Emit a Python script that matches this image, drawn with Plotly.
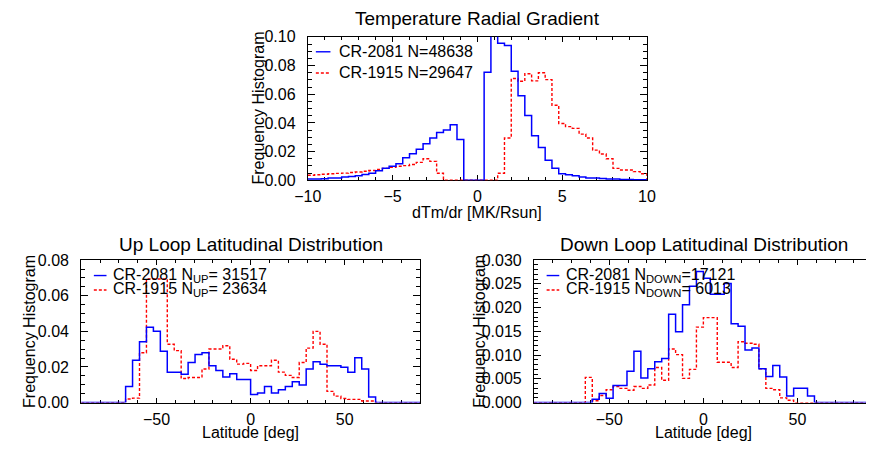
import plotly.graph_objects as go

FONT = "Liberation Sans, Arial, Helvetica, sans-serif"
BLUE = "#0000ff"
RED = "#ff0000"
W, H = 875, 452

# ---------------- data ----------------
# Temperature radial gradient histogram, bins of 0.4 MK/Rsun from -10 to 10
grad_start = -10.0
grad_width = 0.4
grad_cr2081 = [0.0009, 0.0009, 0.0010, 0.0016, 0.0016, 0.0022, 0.0027, 0.0031, 0.0040, 0.0049,
               0.0067, 0.0083, 0.0098, 0.0116, 0.0157, 0.0185, 0.0217, 0.0255, 0.0295, 0.0333,
               0.0351, 0.0387, 0.0284, 0.0, 0.0, 0.0, 0.0754, 0.1015, 0.0955, 0.0940,
               0.0760, 0.0590, 0.0452, 0.0310, 0.0228, 0.0139, 0.0083, 0.0045, 0.0038, 0.0031,
               0.0022, 0.0015, 0.0015, 0.0012, 0.0009, 0.0009, 0.0006, 0.0005, 0.0004, 0.0003]
grad_cr1915 = [0.0035, 0.0038, 0.0042, 0.0045, 0.0048, 0.0050, 0.0054, 0.0058, 0.0063, 0.0068,
               0.0075, 0.0083, 0.0090, 0.0098, 0.0102, 0.0110, 0.0125, 0.0150, 0.0132, 0.0049,
               0.0, 0.0, 0.0, 0.0, 0.0, 0.0, 0.0, 0.0, 0.0049, 0.0295,
               0.0710, 0.0690, 0.0743, 0.0693, 0.0750, 0.0702, 0.0523, 0.0396, 0.0374, 0.0362,
               0.0322, 0.0295, 0.0210, 0.0183, 0.0150, 0.0083, 0.0072, 0.0072, 0.0060, 0.0045]

# Latitude histograms, 36 bins from -66.4 to 66.4 deg
lat_start = -66.4
lat_width = 3.689
up_cr2081 = [0.0090, 0.0238, 0.0342, 0.0423, 0.0400, 0.0288, 0.0171, 0.0171, 0.0159, 0.0225,
             0.0270, 0.0280, 0.0207, 0.0180, 0.0144, 0.0162, 0.0130, 0.0130, 0.0045, 0.0054,
             0.0090, 0.0054, 0.0072, 0.0090, 0.0117, 0.0099, 0.0189, 0.0229, 0.0216, 0.0207,
             0.0207, 0.0198, 0.0171, 0.0252, 0.0189, 0.0032]
up_cr1915 = [0.0020, 0.0025, 0.0280, 0.0694, 0.0694, 0.0694, 0.0328, 0.0292, 0.0135, 0.0141,
             0.0141, 0.0189, 0.0301, 0.0301, 0.0319, 0.0243, 0.0216, 0.0220, 0.0180, 0.0207,
             0.0207, 0.0238, 0.0171, 0.0153, 0.0141, 0.0225, 0.0306, 0.0400, 0.0328, 0.0063,
             0.0036, 0.0023, 0.0018, 0.0018, 0.0009, 0.0009]
down_cr2081 = [0.0, 0.0, 0.0007, 0.0019, 0.0009, 0.0036, 0.0036, 0.0066, 0.0108, 0.0052,
               0.0071, 0.0086, 0.0093, 0.0186, 0.0149, 0.0206, 0.0245, 0.0276, 0.0262, 0.0228,
               0.0228, 0.0251, 0.0166, 0.0161, 0.0111, 0.0115, 0.0071, 0.0055, 0.0078, 0.0054,
               0.0014, 0.0030, 0.0030, 0.0014, 0.0, 0.0]
down_cr1915 = [0.0, 0.0053, 0.0004, 0.0015, 0.0027, 0.0034, 0.0030, 0.0026, 0.0034, 0.0030,
               0.0037, 0.0074, 0.0047, 0.0113, 0.0101, 0.0051, 0.0070, 0.0159, 0.0179, 0.0179,
               0.0085, 0.0085, 0.0074, 0.0128, 0.0125, 0.0123, 0.0071, 0.0030, 0.0027, 0.0010,
               0.0005, 0.0, 0.0, 0.0, 0.0, 0.0]

titles = ["Temperature Radial Gradient", "Up Loop Latitudinal Distribution",
          "Down Loop Latitudinal Distribution"]
xtitles = ["dTm/dr [MK/Rsun]", "Latitude [deg]", "Latitude [deg]"]
ytitle = "Frequency Histogram"
legend_top = ["CR-2081 N=48638", "CR-1915 N=29647"]
legend_up = ["CR-2081 N<sub>UP</sub>= 31517", "CR-1915 N<sub>UP</sub>= 23634"]
legend_down = ["CR-2081 N<sub>DOWN</sub>=17121", "CR-1915 N<sub>DOWN</sub>= 6013"]


def step_xy(start, width, vals, lo=None, hi=None):
    n = len(vals)
    xs = [start + width * i for i in range(n + 1)]
    ys = list(vals) + [0.0]
    if lo is not None:
        xs = [lo] + xs
        ys = [0.0] + ys
    if hi is not None:
        xs = xs + [hi]
        ys = ys + [0.0]
    return xs, ys


def px(x):
    return x / W


def py(y):
    return 1 - y / H


fig = go.Figure()

series = [
    ("x", "y", grad_start, grad_width, grad_cr2081, grad_cr1915, None, None),
    ("x2", "y2", lat_start, lat_width, up_cr2081, up_cr1915, -90, 90),
    ("x3", "y3", lat_start, lat_width, down_cr2081, down_cr1915, -90, 90),
]
for xa, ya, s, w, blue, red, lo, hi in series:
    xr, yr = step_xy(s, w, red, lo, hi)
    fig.add_trace(go.Scatter(x=xr, y=yr, mode="lines", line_shape="hv", xaxis=xa, yaxis=ya,
                             line=dict(color=RED, width=1.4, dash="3px,2px"), showlegend=False,
                             hoverinfo="skip"))
    xb, yb = step_xy(s, w, blue, lo, hi)
    fig.add_trace(go.Scatter(x=xb, y=yb, mode="lines", line_shape="hv", xaxis=xa, yaxis=ya,
                             line=dict(color=BLUE, width=1.5), showlegend=False,
                             hoverinfo="skip"))


def xax(anchor, domain, rng, dtick, minor_dtick):
    return dict(anchor=anchor, domain=domain, range=rng, tickmode="linear", tick0=0, dtick=dtick,
                showline=True, linecolor="black", linewidth=1, mirror="allticks",
                ticks="inside", ticklen=5, tickwidth=1, tickcolor="black",
                showgrid=False, zeroline=False, layer="below traces",
                tickfont=dict(family=FONT, size=16, color="black"), ticklabelstandoff=2,
                minor=dict(ticks="inside", ticklen=3, dtick=minor_dtick, tick0=0,
                           tickcolor="black", showgrid=False))


def yax(anchor, domain, rng, dtick, minor_dtick, fmt, mirror="allticks"):
    return dict(anchor=anchor, domain=domain, range=rng, tickmode="linear", tick0=0, dtick=dtick,
                tickformat=fmt, showline=True, linecolor="black", linewidth=1,
                mirror=mirror, ticks="inside", ticklen=7, tickwidth=1, tickcolor="black",
                showgrid=False, zeroline=False, layer="below traces",
                tickfont=dict(family=FONT, size=16, color="black"), ticklabelstandoff=8,
                minor=dict(ticks="inside", ticklen=4, dtick=minor_dtick, tick0=0,
                           tickcolor="black", showgrid=False))


top_y = [py(179), py(30)]
bot_y = [py(410), py(262)]
right_end = -90 + (W - 534) / 1.933

fig.update_layout(
    width=W, height=H, margin=dict(l=0, r=0, t=0, b=0),
    paper_bgcolor="white", plot_bgcolor="white", showlegend=False,
    font=dict(family=FONT, color="black"),
    xaxis=xax("y", [px(301.7), px(650)], [-10, 10], 5, 1),
    yaxis=yax("x", top_y, [0, 0.1], 0.02, 0.005, ".2f"),
    xaxis2=xax("y2", [px(69), px(417)], [-90, 90], 50, 10),
    yaxis2=yax("x2", bot_y, [0, 0.08], 0.02, 0.005, ".2f"),
    xaxis3=xax("y3", [px(534), 1.0], [-90, right_end], 50, 10),
    yaxis3=yax("x3", bot_y, [0, 0.03], 0.005, 0.001, ".3f", mirror=False),
)

ann = []
# panel titles
for t, (cx, cy) in zip(titles, [(476, 11), (243, 246), (709, 246)]):
    ann.append(dict(text=t, x=px(cx), y=py(cy), xref="paper", yref="paper",
                    xanchor="center", yanchor="middle", showarrow=False,
                    font=dict(family=FONT, size=19, color="black")))
# x axis titles
for t, (cx, cy) in zip(xtitles, [(476, 213), (243, 441), (708, 441)]):
    ann.append(dict(text=t, x=px(cx), y=py(cy), xref="paper", yref="paper",
                    xanchor="center", yanchor="middle", showarrow=False,
                    font=dict(family=FONT, size=16, color="black")))
# y axis titles
for (cx, cy) in [(251, 104), (16, 336), (478, 336)]:
    ann.append(dict(text=ytitle, x=px(cx), y=py(cy), xref="paper", yref="paper",
                    xanchor="center", yanchor="middle", showarrow=False, textangle=-90,
                    font=dict(family=FONT, size=16, color="black")))

# legends
shapes = []
legend_sets = [
    (legend_top, 310, 325, 332, [45.5, 67.5]),
    (legend_up, 82, 95, 100, [278, 293]),
    (legend_down, 547, 560, 565, [278, 293]),
]
for texts, lx0, lx1, tx, rows in legend_sets:
    for i, (t, ry) in enumerate(zip(texts, rows)):
        col = BLUE if i == 0 else RED
        dash = "solid" if i == 0 else "3px,2px"
        shapes.append(dict(type="line", xref="paper", yref="paper",
                           x0=px(lx0), x1=px(lx1), y0=py(ry), y1=py(ry),
                           line=dict(color=col, width=1.4, dash=dash)))
        ann.append(dict(text=t, x=px(tx), y=py(ry), xref="paper", yref="paper",
                        xanchor="left", yanchor="middle", showarrow=False,
                        font=dict(family=FONT, size=16, color="black")))

fig.update_layout(annotations=ann, shapes=shapes)
fig.write_html("out.html")
